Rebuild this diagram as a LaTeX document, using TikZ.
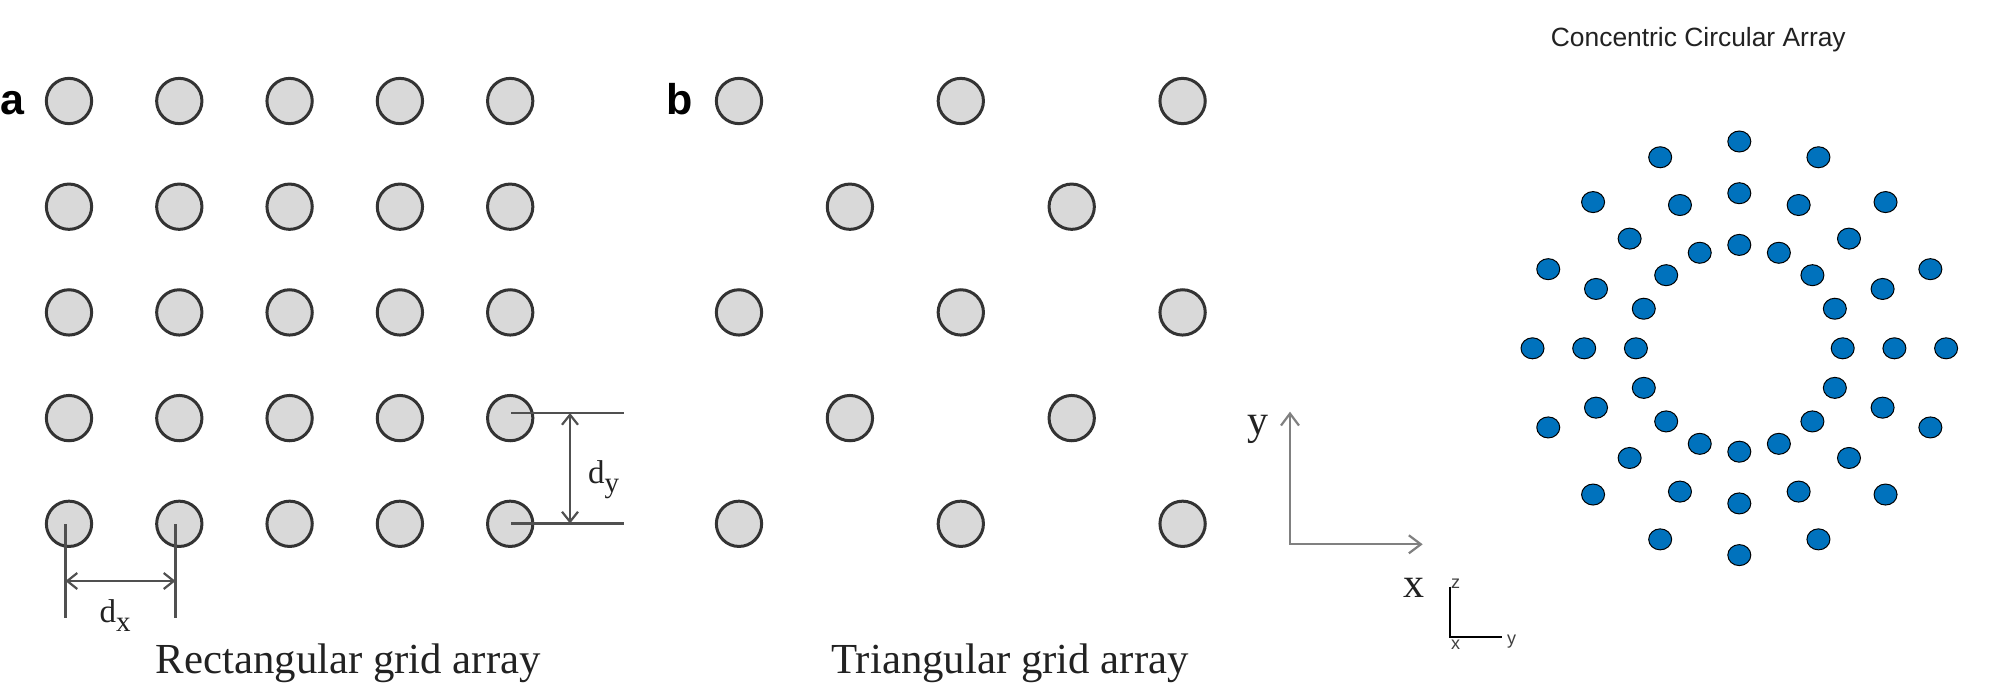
\documentclass[tikz,border=0pt]{standalone}
\usepackage{fontspec}
\setmainfont{Liberation Serif}
\setsansfont{Liberation Sans}
\usetikzlibrary{arrows.meta,shapes.geometric}
\definecolor{cfill}{HTML}{D9D9D9}
\definecolor{cdraw}{HTML}{333333}
\definecolor{dimc}{HTML}{505050}
\definecolor{axc}{HTML}{808080}
\definecolor{mblue}{HTML}{0072BD}
\definecolor{txt}{HTML}{222222}
\begin{document}
\begin{tikzpicture}[x=1pt,y=-1pt,
  gridc/.style={circle,minimum size=45.3pt,inner sep=0pt,draw=cdraw,fill=cfill,line width=3pt},
  dotc/.style={ellipse,minimum width=23pt,minimum height=21pt,inner sep=0pt,draw=black,fill=mblue,line width=1pt},
  dimline/.style={draw=dimc,line width=2.2pt},
  dimarrow/.style={dimline,{Straight Barb[length=10pt,width=16pt]}-{Straight Barb[length=10pt,width=16pt]}},
  axarrow/.style={draw=axc,line width=2.2pt,line join=miter,{Straight Barb[length=12pt,width=18pt]}-{Straight Barb[length=12pt,width=18pt]}},
  caption/.style={font=\fontsize{42.8}{50}\selectfont,anchor=base,inner sep=0pt,text=txt},
  panellabel/.style={font=\sffamily\bfseries\fontsize{43}{50}\selectfont,anchor=base west,inner sep=0pt},
  dimlabel/.style={font=\fontsize{33}{40}\selectfont,anchor=base west,inner sep=0pt,text=txt},
  axlabel/.style={font=\fontsize{42}{50}\selectfont,anchor=base,inner sep=0pt,text=txt},
  smalllabel/.style={font=\sffamily\fontsize{18}{20}\selectfont,anchor=base west,inner sep=0pt,text=black!75}]
\fill[white] (0,0) rectangle (1989,683);
\useasboundingbox (0,0) rectangle (1989,683);

% panel a: rectangular grid
\foreach \r in {1,...,5}
  \foreach \c in {1,...,5}
    \node[gridc] (a\r\c) at ({69+110.3*(\c-1)},{101+105.7*(\r-1)}) {};
\node[panellabel] (la) at (0,114) {a};

% d_y dimension
\coordinate (dyt0) at (511,413);
\coordinate (dyt1) at (624,413);
\coordinate (dyb0) at (511,523.5);
\coordinate (dyb1) at (624,523.5);
\coordinate (dya) at (570,413);
\coordinate (dyb) at (570,523.5);
\draw[dimline] (dyt0) -- (dyt1);
\draw[dimline] (dyb0) -- (dyb1);
\draw[dimarrow] (dya) -- (dyb);
\node[dimlabel] (ldy) at (588,483) {d\raisebox{-0.3em}{\fontsize{29}{30}\selectfont y}};

% d_x dimension
\coordinate (dxl0) at (65.5,524);
\coordinate (dxl1) at (65.5,618);
\coordinate (dxr0) at (175.5,524);
\coordinate (dxr1) at (175.5,618);
\coordinate (dxa) at (65.5,581);
\coordinate (dxb) at (175.5,581);
\draw[dimline] (dxl0) -- (dxl1);
\draw[dimline] (dxr0) -- (dxr1);
\draw[dimarrow] (dxa) -- (dxb);
\node[dimlabel] (ldx) at (99.5,622) {d\raisebox{-0.3em}{\fontsize{29}{30}\selectfont x}};

\node[caption] (capa) at (348.3,673) {Rectangular grid array};

% panel b: triangular grid
\foreach \r in {1,3,5}
  \foreach \c in {1,3,5}
    \node[gridc] (b\r\c) at ({739+110.9*(\c-1)},{101+105.7*(\r-1)}) {};
\foreach \r in {2,4}
  \foreach \c in {2,4}
    \node[gridc] (b\r\c) at ({739+110.9*(\c-1)},{101+105.7*(\r-1)}) {};
\node[panellabel] (lb) at (666,114) {b};
\node[caption] (capb) at (1010,673) {Triangular grid array};

% x-y axes
\coordinate (ax0) at (1290,544.3);
\coordinate (axy) at (1290,411.7);
\coordinate (axx) at (1422.7,544.3);
\draw[axarrow] (axy) -- (ax0) -- (axx);
\node[axlabel] (ly) at (1257.5,434) {y};
\node[axlabel] (lx) at (1414,597) {x};

% small triad
\coordinate (t0) at (1450,636.7);
\coordinate (tz) at (1450,586.7);
\coordinate (ty) at (1501.7,636.7);
\draw[black,line width=2pt] (tz) -- (t0) -- (ty);
\node[smalllabel] (lz) at (1451,588) {z};
\node[smalllabel] (lyy) at (1507,644) {y};
\node[smalllabel] (lxx) at (1451,649) {x};

% concentric circular array
\node[font=\sffamily\fontsize{26.4}{30}\selectfont,anchor=base,inner sep=0pt,text=txt] (title) at (1698.3,46.5) {Concentric Circular Array};
\foreach \k in {2,3,4}
  \foreach \i in {0,...,15}
    \node[dotc] (d\k-\i) at ({1739.3+51.7*\k*cos(\i*22.5)},{348.3+51.7*\k*sin(\i*22.5)}) {};
\end{tikzpicture}
\end{document}
